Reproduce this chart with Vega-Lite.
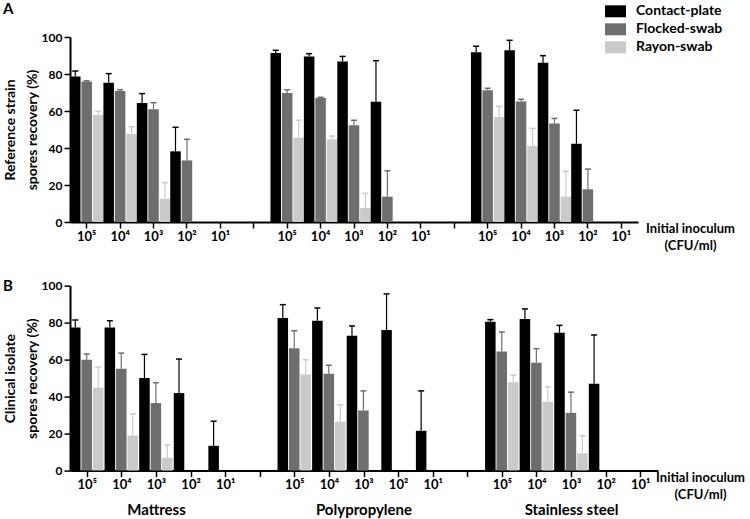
{
  "$schema": "https://vega.github.io/schema/vega-lite/v6.json",
  "padding": {"left": 3, "top": 0, "right": 0, "bottom": 8},
  "background": "white",
  "config": {
    "view": {"stroke": null},
    "font": "Lato",
    "axis": {
      "domainColor": "black", "domainWidth": 2, "tickColor": "black", "tickWidth": 1.5, "tickSize": 6,
      "labelFont": "Lato", "labelFontWeight": "bold", "labelFontSize": 12, "labelColor": "black",
      "titleFont": "Lato", "titleFontWeight": "bold", "titleFontSize": 14, "titleColor": "black", "grid": false,
      "labelOverlap": false
    },
    "legend": {"labelFont": "Lato", "labelFontWeight": "bold", "labelFontSize": 14, "labelColor": "black"},
    "title": {"font": "Lato", "fontWeight": "bold", "fontSize": 15, "color": "black"}
  },
  "datasets": {
    "A": [
      {"group": "Mattress 10⁵", "method": "Contact-plate", "value": 78.6, "upper": 81.6},
      {"group": "Mattress 10⁵", "method": "Flocked-swab", "value": 75.9, "upper": 76.3},
      {"group": "Mattress 10⁵", "method": "Rayon-swab", "value": 57.8, "upper": 59.8},
      {"group": "Mattress 10⁴", "method": "Contact-plate", "value": 75.3, "upper": 80.2},
      {"group": "Mattress 10⁴", "method": "Flocked-swab", "value": 70.8, "upper": 71.5},
      {"group": "Mattress 10⁴", "method": "Rayon-swab", "value": 47.6, "upper": 51.5},
      {"group": "Mattress 10³", "method": "Contact-plate", "value": 64.3, "upper": 69.4},
      {"group": "Mattress 10³", "method": "Flocked-swab", "value": 60.9, "upper": 64.5},
      {"group": "Mattress 10³", "method": "Rayon-swab", "value": 12.6, "upper": 21.3},
      {"group": "Mattress 10²", "method": "Contact-plate", "value": 38.2, "upper": 51.2},
      {"group": "Mattress 10²", "method": "Flocked-swab", "value": 33.3, "upper": 44.7},
      {"group": "Polypropylene 10⁵", "method": "Contact-plate", "value": 91.4, "upper": 92.8},
      {"group": "Polypropylene 10⁵", "method": "Flocked-swab", "value": 69.7, "upper": 71.5},
      {"group": "Polypropylene 10⁵", "method": "Rayon-swab", "value": 45.6, "upper": 55},
      {"group": "Polypropylene 10⁴", "method": "Contact-plate", "value": 89.5, "upper": 91},
      {"group": "Polypropylene 10⁴", "method": "Flocked-swab", "value": 67, "upper": 67.4},
      {"group": "Polypropylene 10⁴", "method": "Rayon-swab", "value": 44.7, "upper": 46.5},
      {"group": "Polypropylene 10³", "method": "Contact-plate", "value": 86.8, "upper": 89.5},
      {"group": "Polypropylene 10³", "method": "Flocked-swab", "value": 52.3, "upper": 55},
      {"group": "Polypropylene 10³", "method": "Rayon-swab", "value": 7.6, "upper": 15.5},
      {"group": "Polypropylene 10²", "method": "Contact-plate", "value": 65, "upper": 87.2},
      {"group": "Polypropylene 10²", "method": "Flocked-swab", "value": 13.7, "upper": 27.7},
      {"group": "Stainless steel 10⁵", "method": "Contact-plate", "value": 91.7, "upper": 95},
      {"group": "Stainless steel 10⁵", "method": "Flocked-swab", "value": 71.2, "upper": 72.3},
      {"group": "Stainless steel 10⁵", "method": "Rayon-swab", "value": 56.8, "upper": 62.5},
      {"group": "Stainless steel 10⁴", "method": "Contact-plate", "value": 92.8, "upper": 98.2},
      {"group": "Stainless steel 10⁴", "method": "Flocked-swab", "value": 65.2, "upper": 66.3},
      {"group": "Stainless steel 10⁴", "method": "Rayon-swab", "value": 41.1, "upper": 50.6},
      {"group": "Stainless steel 10³", "method": "Contact-plate", "value": 86.1, "upper": 89.9},
      {"group": "Stainless steel 10³", "method": "Flocked-swab", "value": 53.3, "upper": 56},
      {"group": "Stainless steel 10³", "method": "Rayon-swab", "value": 13.7, "upper": 27.4},
      {"group": "Stainless steel 10²", "method": "Contact-plate", "value": 42.3, "upper": 60.4},
      {"group": "Stainless steel 10²", "method": "Flocked-swab", "value": 17.7, "upper": 28.6}
    ],
    "B": [
      {"group": "Mattress 10⁵", "method": "Contact-plate", "value": 77.3, "upper": 81.4},
      {"group": "Mattress 10⁵", "method": "Flocked-swab", "value": 59.9, "upper": 63},
      {"group": "Mattress 10⁵", "method": "Rayon-swab", "value": 44.8, "upper": 56},
      {"group": "Mattress 10⁴", "method": "Contact-plate", "value": 77.4, "upper": 81},
      {"group": "Mattress 10⁴", "method": "Flocked-swab", "value": 55, "upper": 63.5},
      {"group": "Mattress 10⁴", "method": "Rayon-swab", "value": 19, "upper": 30.7},
      {"group": "Mattress 10³", "method": "Contact-plate", "value": 50, "upper": 62.8},
      {"group": "Mattress 10³", "method": "Flocked-swab", "value": 36.5, "upper": 47.5},
      {"group": "Mattress 10³", "method": "Rayon-swab", "value": 6.9, "upper": 13.9},
      {"group": "Mattress 10²", "method": "Contact-plate", "value": 41.9, "upper": 60.3},
      {"group": "Mattress 10¹", "method": "Contact-plate", "value": 13.4, "upper": 26.7},
      {"group": "Polypropylene 10⁵", "method": "Contact-plate", "value": 82.5, "upper": 89.7},
      {"group": "Polypropylene 10⁵", "method": "Flocked-swab", "value": 66.2, "upper": 75.6},
      {"group": "Polypropylene 10⁵", "method": "Rayon-swab", "value": 52, "upper": 59.9},
      {"group": "Polypropylene 10⁴", "method": "Contact-plate", "value": 81, "upper": 87.9},
      {"group": "Polypropylene 10⁴", "method": "Flocked-swab", "value": 52.3, "upper": 57},
      {"group": "Polypropylene 10⁴", "method": "Rayon-swab", "value": 26.4, "upper": 35.6},
      {"group": "Polypropylene 10³", "method": "Contact-plate", "value": 72.9, "upper": 78.2},
      {"group": "Polypropylene 10³", "method": "Flocked-swab", "value": 32.5, "upper": 43.1},
      {"group": "Polypropylene 10²", "method": "Contact-plate", "value": 76, "upper": 95.5},
      {"group": "Polypropylene 10¹", "method": "Contact-plate", "value": 21.5, "upper": 43.1},
      {"group": "Stainless steel 10⁵", "method": "Contact-plate", "value": 80.5, "upper": 81.6},
      {"group": "Stainless steel 10⁵", "method": "Flocked-swab", "value": 64.4, "upper": 74.9},
      {"group": "Stainless steel 10⁵", "method": "Rayon-swab", "value": 47.7, "upper": 51.6},
      {"group": "Stainless steel 10⁴", "method": "Contact-plate", "value": 81.9, "upper": 87.4},
      {"group": "Stainless steel 10⁴", "method": "Flocked-swab", "value": 58.3, "upper": 65.9},
      {"group": "Stainless steel 10⁴", "method": "Rayon-swab", "value": 37.2, "upper": 45.3},
      {"group": "Stainless steel 10³", "method": "Contact-plate", "value": 74.5, "upper": 78.5},
      {"group": "Stainless steel 10³", "method": "Flocked-swab", "value": 31.2, "upper": 42.4},
      {"group": "Stainless steel 10³", "method": "Rayon-swab", "value": 9.4, "upper": 18.8},
      {"group": "Stainless steel 10²", "method": "Contact-plate", "value": 46.9, "upper": 73.3}
    ]
  },
  "bounds": "flush",
  "spacing": 63.6,
  "resolve": {"legend": {"color": "independent"}},
  "vconcat": [
    {
      "width": 568, "height": 185,
      "title": {"text": "A", "anchor": "start", "frame": "bounds", "offset": -16},
      "data": {"name": "A"},
      "encoding": {
        "x": {"field": "group", "type": "nominal", "sort": null,
          "scale": {"domain": ["Mattress 10⁵","Mattress 10⁴","Mattress 10³","Mattress 10²","Mattress 10¹","gap1","Polypropylene 10⁵","Polypropylene 10⁴","Polypropylene 10³","Polypropylene 10²","Polypropylene 10¹","gap2","Stainless steel 10⁵","Stainless steel 10⁴","Stainless steel 10³","Stainless steel 10²","Stainless steel 10¹"], "paddingInner": 0, "paddingOuter": 0},
          "axis": {"labelAngle": 0, "labelPadding": 2, "labelFontSize": 13, "labelExpr": "indexof(datum.value,'gap')==0 ? '' : slice(datum.value,-3)",
            "title": ["Initial inoculum", "(CFU/ml)"], "titleX": 620, "titleY": 0, "titleAlign": "center", "titleBaseline": "top", "titleFontSize": 13, "titleLineHeight": 17}},
        "xOffset": {"field": "method", "type": "nominal", "scale": {"domain": ["Contact-plate","Flocked-swab","Rayon-swab"], "paddingInner": 0.08, "paddingOuter": 0}},
        "color": {"field": "method", "type": "nominal",
          "scale": {"domain": ["Contact-plate","Flocked-swab","Rayon-swab"], "range": ["#000000","#6e6e6e","#cacaca"]},
          "legend": {"title": null, "orient": "none", "legendX": 535, "legendY": -36.2, "padding": 0, "rowPadding": 0, "labelOffset": 10,
            "symbolType": "M-1,-0.57L1,-0.57L1,0.57L-1,0.57Z", "symbolSize": 441, "symbolStrokeWidth": 0, "symbolOpacity": 1}}
      },
      "layer": [
        {"mark": {"type": "bar", "opacity": 1},
         "encoding": {"y": {"field": "value", "type": "quantitative", "scale": {"domain": [0, 100], "nice": false},
           "axis": {"values": [0, 20, 40, 60, 80, 100], "labelOverlap": false, "labelBound": false, "labelPadding": 2, "title": ["Reference strain", "spores recovery (%)"], "titleLineHeight": 22, "titlePadding": 2}}}},
        {"mark": {"type": "rule", "strokeWidth": 1.2},
         "encoding": {"y": {"field": "value", "type": "quantitative", "axis": {"values": [0, 20, 40, 60, 80, 100], "labelOverlap": false}}, "y2": {"field": "upper"}}},
        {"mark": {"type": "tick", "orient": "horizontal", "size": 6, "thickness": 1.5, "opacity": 1},
         "encoding": {"y": {"field": "upper", "type": "quantitative", "axis": {"values": [0, 20, 40, 60, 80, 100], "labelOverlap": false}}}}
      ]
    },
    {
      "width": 588, "height": 185,
      "title": {"text": "B", "anchor": "start", "frame": "bounds", "offset": -14},
      "data": {"name": "B"},
      "encoding": {
        "xOffset": {"field": "method", "type": "nominal", "scale": {"domain": ["Contact-plate","Flocked-swab","Rayon-swab"], "paddingInner": 0.08, "paddingOuter": 0}},
        "color": {"field": "method", "type": "nominal",
          "scale": {"domain": ["Contact-plate","Flocked-swab","Rayon-swab"], "range": ["#000000","#6e6e6e","#cacaca"]},
          "legend": null}
      },
      "resolve": {"axis": {"x": "independent"}},
      "layer": [
        {"mark": {"type": "bar", "opacity": 1},
         "encoding": {
           "x": {"field": "group", "type": "nominal", "sort": null,
             "scale": {"domain": ["Mattress 10⁵","Mattress 10⁴","Mattress 10³","Mattress 10²","Mattress 10¹","gap1","Polypropylene 10⁵","Polypropylene 10⁴","Polypropylene 10³","Polypropylene 10²","Polypropylene 10¹","gap2","Stainless steel 10⁵","Stainless steel 10⁴","Stainless steel 10³","Stainless steel 10²","Stainless steel 10¹"], "paddingInner": 0, "paddingOuter": 0},
             "axis": {"orient": "bottom", "labelAngle": 0, "labelPadding": 2, "labelFontSize": 13, "labelExpr": "indexof(datum.value,'gap')==0 ? '' : slice(datum.value,-3)",
               "title": ["Initial inoculum", "(CFU/ml)"], "titleX": 630, "titleY": 1, "titleAlign": "center", "titleBaseline": "top", "titleFontSize": 13, "titleLineHeight": 17}},
           "y": {"field": "value", "type": "quantitative", "scale": {"domain": [0, 100], "nice": false},
           "axis": {"values": [0, 20, 40, 60, 80, 100], "labelOverlap": false, "labelBound": false, "labelPadding": 2, "title": ["Clinical isolate", "spores recovery (%)"], "titleLineHeight": 22, "titlePadding": 2}}}},
        {"mark": {"type": "rule", "strokeWidth": 1.2},
         "encoding": {
           "x": {"field": "group", "type": "nominal", "sort": null, "axis": null},
           "y": {"field": "value", "type": "quantitative", "axis": {"values": [0, 20, 40, 60, 80, 100], "labelOverlap": false}}, "y2": {"field": "upper"}}},
        {"mark": {"type": "tick", "orient": "horizontal", "size": 6, "thickness": 1.5, "opacity": 1},
         "encoding": {
           "x": {"field": "group", "type": "nominal", "sort": null,
             "axis": {"orient": "bottom", "domain": false, "ticks": false, "labelAngle": 0, "labelPadding": 32, "labelFontSize": 15, "labelBaseline": "top",
               "labelExpr": "slice(datum.value,-3)=='10³' ? slice(datum.value,0,-4) : ''", "title": null}},
           "y": {"field": "upper", "type": "quantitative", "axis": {"values": [0, 20, 40, 60, 80, 100], "labelOverlap": false}}}}
      ]
    }
  ]
}
